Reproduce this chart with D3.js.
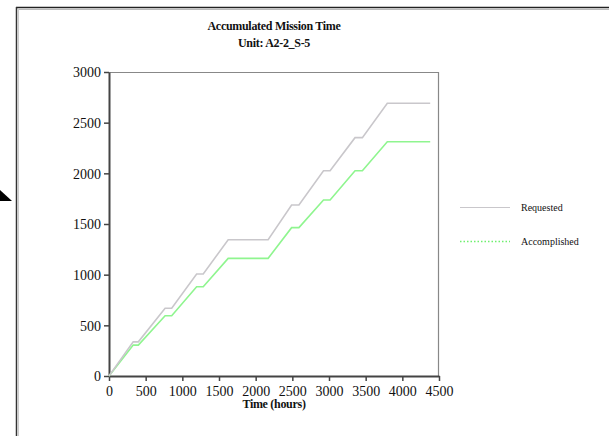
<!DOCTYPE html>
<html>
<head>
<meta charset="utf-8">
<script src="https://cdn.jsdelivr.net/npm/d3@7"></script>
<style>
  body { margin: 0; background: #fff; }
  text { font-family: 'Liberation Serif', 'Times New Roman', serif; fill: #111; }
</style>
</head>
<body>
<div id="chart"></div>
<script>
// hours on the x axis, where each segment of the curves bends
const timeHours = [0, 330, 400, 765, 855, 1195, 1285, 1625, 2170, 2490, 2590, 2925, 3015, 3355, 3455, 3795, 4380];
const requested = [0, 337, 337, 668, 668, 1006, 1006, 1345, 1345, 1687, 1687, 2026, 2026, 2352, 2352, 2691, 2691];
const accomplished = [0, 305, 305, 595, 595, 881, 881, 1161, 1161, 1464, 1464, 1737, 1737, 2026, 2026, 2312, 2312];
const xTicks = [0, 500, 1000, 1500, 2000, 2500, 3000, 3500, 4000, 4500];
const yTicks = [0, 500, 1000, 1500, 2000, 2500, 3000];
const seriesNames = ['Requested', 'Accomplished'];

const width = 609,
  height = 436,
  margin = { top: 72, left: 109, right: 170, bottom: 60 },
  plotW = 439 - margin.left,
  plotH = 376 - margin.top,
  colors = ['#c9c7cb', '#8ff58f'];

const svg = d3
  .select('#chart')
  .append('svg')
  .attr('width', width)
  .attr('height', height);

// window frame around the chart
svg.append('line').attr('x1', 16).attr('x2', width).attr('y1', 7.5).attr('y2', 7.5)
  .attr('stroke', '#222').attr('stroke-width', 1.5);
svg.append('line').attr('x1', 18).attr('x2', width).attr('y1', 9.5).attr('y2', 9.5)
  .attr('stroke', '#bbb');
svg.append('line').attr('x1', 16.5).attr('x2', 16.5).attr('y1', 7).attr('y2', height)
  .attr('stroke', '#333').attr('stroke-width', 1.5);
svg.append('line').attr('x1', 18.5).attr('x2', 18.5).attr('y1', 9).attr('y2', height)
  .attr('stroke', '#ccc');

// arrow head poking in from the left
svg.append('path').attr('d', 'M0,190 L12,201 L0,201 Z').attr('fill', '#000');

// titles
svg.append('text').attr('x', 274).attr('y', 30).attr('text-anchor', 'middle')
  .style('font-size', '12px').style('font-weight', 'bold').style('letter-spacing', '-0.3px')
  .text('Accumulated Mission Time');
svg.append('text').attr('x', 274).attr('y', 47).attr('text-anchor', 'middle')
  .style('font-size', '12px').style('font-weight', 'bold').style('letter-spacing', '-0.3px')
  .text('Unit: A2-2_S-5');

const g = svg.append('g').attr('transform', `translate(${margin.left}, ${margin.top})`);

const x = d3.scaleLinear().domain([0, 4500]).range([0, plotW]);
const y = d3.scaleLinear().domain([0, 3000]).range([plotH, 0]);

// plot box (top and right edges)
g.append('path')
  .attr('d', `M0,0.5 H${plotW - 0.5} V${plotH}`)
  .attr('fill', 'none')
  .attr('stroke', '#888')
  .attr('stroke-width', 1.2);

const xAxis = g
  .append('g')
  .attr('class', 'x-axis')
  .attr('transform', `translate(0, ${plotH})`)
  .call(d3.axisBottom(x).tickValues(xTicks).tickFormat(d3.format('d'))
    .tickSize(5).tickSizeOuter(0).tickPadding(5));

const yAxis = g
  .append('g')
  .attr('class', 'y-axis')
  .call(d3.axisLeft(y).tickValues(yTicks).tickFormat(d3.format('d'))
    .tickSize(5).tickSizeOuter(0).tickPadding(3));

svg.selectAll('.x-axis path, .y-axis path').attr('stroke', '#444').attr('stroke-width', 2);
svg.selectAll('.tick line').attr('stroke', '#444').attr('stroke-width', 1.5);
svg.selectAll('.tick text')
  .style('font-family', "'Liberation Serif', serif")
  .style('font-size', '14px')
  .attr('fill', '#111');
yAxis.selectAll('.tick text').attr('dy', '0.35em');

svg.append('text').attr('x', 274).attr('y', 408).attr('text-anchor', 'middle')
  .style('font-size', '12px').style('font-weight', 'bold').style('letter-spacing', '-0.3px')
  .text('Time (hours)');

const series = [requested, accomplished];

const line = d3
  .line()
  .x((d, i) => x(timeHours[i]))
  .y((d) => y(d));

// draw accomplished first so requested sits on top where they overlap
[1, 0].forEach((k) => {
  g.append('path')
    .attr('fill', 'none')
    .attr('stroke', colors[k])
    .attr('stroke-width', 1.6)
    .attr('d', line(series[k]));
});

// legend
const legend = svg.append('g').attr('transform', 'translate(460, 207)');
seriesNames.forEach((name, i) => {
  const row = legend.append('g').attr('transform', `translate(0, ${i * 34})`);
  row.append('line')
    .attr('x1', 0).attr('x2', 50).attr('y1', 0.5).attr('y2', 0.5)
    .attr('stroke', i === 1 ? '#6ef06e' : colors[i])
    .attr('stroke-width', i === 1 ? 1.6 : 1.2)
    .attr('stroke-dasharray', i === 1 ? '1.5,2' : null);
  row.append('text')
    .attr('x', 61).attr('y', 0).attr('dy', '0.35em')
    .style('font-size', '10px')
    .text(name);
});
</script>
</body>
</html>
